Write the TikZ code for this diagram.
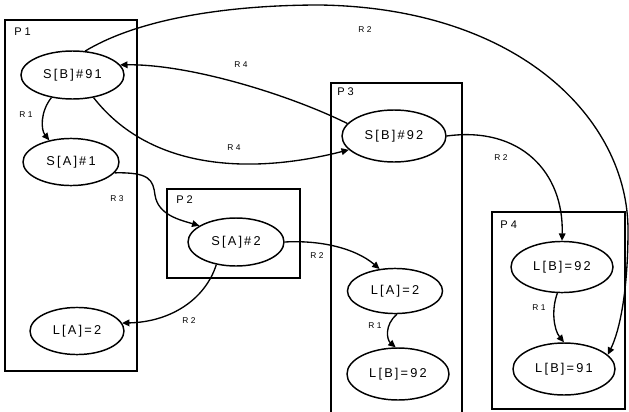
\documentclass[tikz,border=0pt]{standalone}
\usepackage{fontspec}
\usetikzlibrary{shapes.geometric,arrows.meta}
\newfontfamily\ellfont[LetterSpace=17]{Liberation Sans}
\newfontfamily\lblfont[LetterSpace=30]{Liberation Sans}
\newfontfamily\boxfont[LetterSpace=28]{Liberation Sans}
\begin{document}
\begin{tikzpicture}[x=0.75pt,y=-0.75pt,
  ell/.style={draw, ellipse, line width=1.1pt, inner sep=0pt, font=\ellfont\fontsize{9.6}{11}\selectfont},
  part/.style={draw, line width=1.4pt},
  plabel/.style={anchor=west, inner sep=0pt, font=\boxfont\fontsize{8.3}{10}\selectfont},
  rlabel/.style={inner sep=0pt, font=\lblfont\fontsize{6.3}{8}\selectfont},
  edge/.style={draw, line width=1pt, -{Triangle[length=5.5pt,width=5pt]}}]
\useasboundingbox (0,0) rectangle (629,411);
% partitions
\draw[part] (5,20) rectangle (137,371);
\draw[part] (167,189) rectangle (300,278);
\draw[part] (331,413) -- (331,83) -- (462,83) -- (462,413);
\draw[part] (492,212) rectangle (625,409);
\node[plabel] (p1) at (14,32) {P1};
\node[plabel] (p2) at (176,200) {P2};
\node[plabel] (p3) at (337,92) {P3};
\node[plabel] (p4) at (500,225) {P4};
% states
\node[ell, minimum width=77.3pt, minimum height=36pt] (b91) at (72.5,75) {S[B]\#91};
\node[ell, minimum width=72pt, minimum height=35.3pt] (a1) at (71,162) {S[A]\#1};
\node[ell, minimum width=72pt, minimum height=36pt] (a2) at (236,242) {S[A]\#2};
\node[ell, minimum width=70.5pt, minimum height=35.3pt] (la1) at (77,331) {L[A]=2};
\node[ell, minimum width=78pt, minimum height=39pt] (b92) at (394,136) {S[B]\#92};
\node[ell, minimum width=71.3pt, minimum height=33.8pt] (la3) at (395,291) {L[A]=2};
\node[ell, minimum width=76.5pt, minimum height=39pt] (lb3) at (398,374) {L[B]=92};
\node[ell, minimum width=76.5pt, minimum height=38.3pt] (lb4) at (562,267) {L[B]=92};
\node[ell, minimum width=76.5pt, minimum height=39pt] (lb5) at (564,369) {L[B]=91};
% edges
\path[edge] (b91.-133) .. controls (40,112) and (41,130) .. (a1.135);
\path[edge] (a1.-14) .. controls (150,172) and (153,180) .. (155,195)
            .. controls (158,215) and (180,220) .. (a2.156);
\path[edge] (a2.-131) .. controls (205,300) and (170,322) .. (la1.10);
\path[edge] (a2.east) .. controls (320,240) and (355,248) .. (la3.125);
\path[edge] (la3.-85) .. controls (384,325) and (387,340) .. (lb3.95);
\path[edge] (b92.east) .. controls (520,126) and (564,172) .. (lb4.north);
\path[edge] (lb4.-100) .. controls (551,310) and (554,330) .. (lb5.north);
\path[edge] (b91.62) .. controls (140,18) and (230,5) .. (320,5)
            .. controls (520,8) and (628,120) .. (628,230)
            .. controls (628,290) and (620,330) .. (lb5.18);
\path[edge] (b92.165) .. controls (290,95) and (190,64) .. (b91.12);
\path[edge] (b91.-47) .. controls (150,170) and (250,175) .. (b92.-163);
% labels
\node[rlabel] (r1a) at (26,115) {R1};
\node[rlabel] (r4a) at (241,65) {R4};
\node[rlabel] (r4b) at (234,148) {R4};
\node[rlabel] (r3) at (117,199) {R3};
\node[rlabel] (r2a) at (365,30) {R2};
\node[rlabel] (r2b) at (501,158) {R2};
\node[rlabel] (r2c) at (189,321) {R2};
\node[rlabel] (r2d) at (317,256) {R2};
\node[rlabel] (r1b) at (375,326) {R1};
\node[rlabel] (r1c) at (539,308) {R1};
\end{tikzpicture}
\end{document}
